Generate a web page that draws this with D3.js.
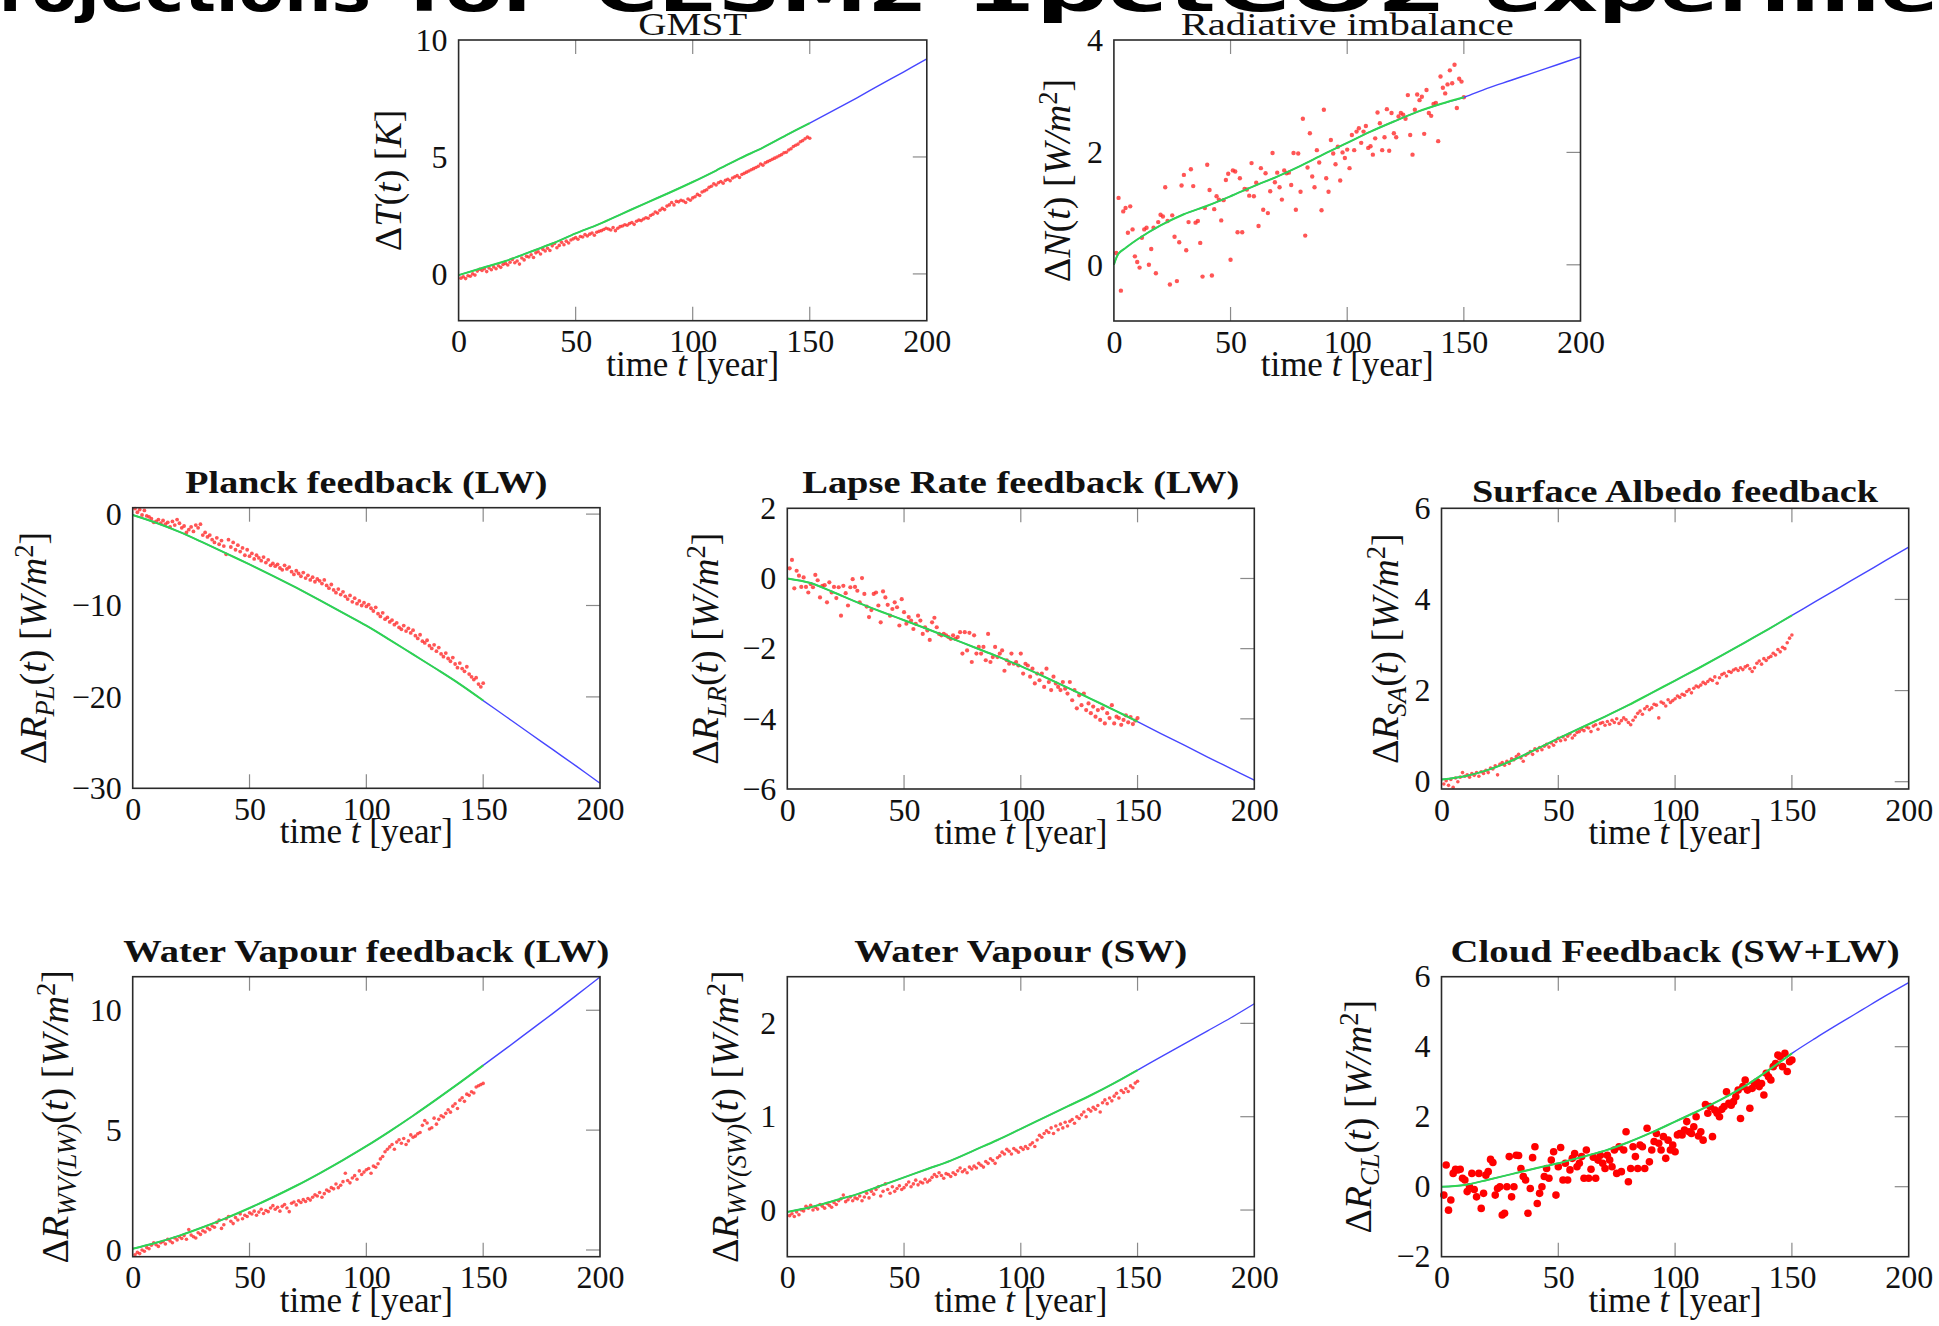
<!DOCTYPE html>
<html>
<head>
<meta charset="utf-8">
<script src="https://cdn.jsdelivr.net/npm/d3@7"></script>
<style>
  body { margin: 0; background: #fff; overflow: hidden; }
  svg text { font-family: "Liberation Serif", "Times New Roman", serif; fill: #111; }
  .tick text { font-size: 32px; }
  .banner { font-family: "DejaVu Sans", sans-serif !important; font-weight: bold; font-size: 58px; fill: #000 !important; }
</style>
</head>
<body>
<svg id="chart" width="1939" height="1326"></svg>
<script>
// years of the model output, one value per year
const obsYears = d3.range(1, 151);
// years where the fitted response is tabulated
const fitYears = d3.range(0, 201, 10);
const radFitYears = [0, 2, 5, 10, 20, 30, 40, 50, 60, 70, 80, 90, 100, 110, 120, 130, 140, 150, 160, 170, 180, 190, 200];
const xTicks = [0, 50, 100, 150, 200];

// heading words
const bannerWords = ['Projections', 'for', 'CESM2', '1pctCO2', 'experiment'];

// global mean surface temperature change [K]
const gmstObs = [
  -0.18,-0.12,-0.2,-0.08,-0.1,0.0,-0.05,0.12,0.2,0.15,
  0.22,0.1,0.25,0.18,0.3,0.22,0.35,0.28,0.4,0.45,
  0.38,0.5,0.62,0.48,0.55,0.42,0.68,0.6,0.75,0.72,
  0.82,0.7,0.9,0.95,0.85,1.05,0.98,1.1,1.0,1.2,
  1.3,1.12,1.22,1.35,1.25,1.4,1.32,1.45,1.5,1.55,
  1.48,1.6,1.58,1.68,1.62,1.7,1.75,1.65,1.78,1.82,
  1.85,1.9,1.95,1.92,1.88,1.98,1.85,1.95,2.02,2.05,
  2.1,2.08,2.15,2.2,2.12,2.25,2.3,2.28,2.35,2.4,
  2.38,2.5,2.55,2.65,2.6,2.72,2.8,2.75,2.9,2.95,
  3.05,2.95,3.1,3.08,3.15,3.12,3.05,3.2,3.15,3.25,
  3.3,3.4,3.35,3.5,3.55,3.6,3.7,3.75,3.85,3.8,
  3.9,3.95,3.88,4.0,4.05,3.98,4.1,4.15,4.2,4.12,
  4.25,4.3,4.35,4.4,4.45,4.5,4.55,4.6,4.7,4.65,
  4.75,4.8,4.85,4.9,4.95,5.0,5.05,5.1,5.18,5.2,
  5.3,5.35,5.45,5.5,5.55,5.65,5.7,5.78,5.85,5.8
];
const gmstFit = [-0.05,0.25,0.55,0.92,1.3,1.73,2.13,2.58,3.03,3.47,3.93,4.42,4.93,5.4,5.93,6.45,6.98,7.52,8.08,8.63,9.19];

// top-of-atmosphere radiative imbalance [W/m2]
const radObs = [
  0.21,1.19,-0.46,0.95,1.01,0.57,1.04,0.63,0.15,0.05,
  -0.05,0.48,0.63,0.66,0.0,0.28,0.66,-0.15,0.76,0.89,
  0.86,1.38,0.78,-0.35,0.88,0.5,-0.29,0.4,1.41,1.6,
  0.26,0.76,1.7,1.4,0.75,0.78,0.39,-0.21,1.01,1.78,
  1.33,-0.19,0.99,1.22,1.16,0.79,1.15,1.51,1.62,0.09,
  1.68,1.66,0.58,1.54,0.58,1.35,1.34,1.23,1.81,1.22,
  1.46,0.69,1.72,0.98,1.63,0.92,1.31,1.99,1.47,1.64,
  1.38,1.16,1.68,1.63,1.64,1.42,1.99,0.98,1.98,1.3,
  2.6,0.52,1.73,2.34,1.57,1.38,2.04,1.82,0.97,2.76,
  1.54,1.3,2.22,1.98,1.79,2.1,1.5,2.0,1.9,2.05,
  1.72,2.31,2.04,2.37,2.43,2.17,2.37,2.47,2.08,2.11,
  1.96,2.25,2.71,2.52,2.04,2.27,2.77,2.03,2.7,2.34,
  2.27,2.64,2.7,2.67,2.6,3.02,2.31,1.96,2.76,3.03,
  2.93,2.99,2.33,3.11,2.7,2.65,2.86,2.88,2.2,3.35,
  3.15,3.05,3.21,3.46,3.23,3.56,2.79,3.31,3.26,2.98
];
const radFit = [0,0.2,0.3,0.45,0.7,0.9,1.05,1.22,1.4,1.57,1.76,1.97,2.17,2.37,2.55,2.72,2.86,2.98,3.14,3.28,3.42,3.56,3.7];

// Planck feedback (LW) [W/m2]
const planckObs = [
  0.6,0.2,0.5,-0.1,0.4,-0.2,-0.3,-0.5,-0.9,-0.8,
  -0.6,-1.0,-0.7,-1.1,-0.9,-1.4,-0.8,-1.2,-0.6,-1.0,
  -1.5,-1.3,-2.0,-1.7,-1.4,-1.9,-1.2,-1.5,-1.1,-2.3,
  -2.0,-2.5,-2.3,-2.8,-3.1,-2.6,-3.3,-2.9,-3.5,-4.4,
  -2.8,-3.6,-3.1,-3.9,-3.4,-4.1,-3.7,-4.5,-3.9,-4.6,
  -4.3,-4.9,-4.5,-4.8,-5.1,-4.7,-5.3,-5.0,-5.6,-5.4,
  -5.7,-5.5,-5.9,-6.1,-5.6,-6.0,-5.8,-6.3,-6.6,-6.2,
  -6.5,-6.8,-6.4,-7.0,-6.7,-7.2,-6.9,-7.4,-7.1,-7.3,
  -7.6,-7.2,-7.8,-8.1,-7.7,-8.3,-8.6,-8.2,-8.8,-8.5,
  -9.0,-9.3,-8.9,-9.6,-9.2,-9.8,-9.5,-10.0,-9.7,-10.1,
  -9.9,-10.3,-10.6,-10.2,-10.9,-11.2,-10.8,-11.5,-11.3,-11.8,
  -11.6,-12.1,-11.9,-12.4,-12.6,-12.2,-12.8,-12.5,-13.0,-12.7,
  -13.3,-13.6,-13.2,-13.9,-14.1,-13.8,-14.4,-14.7,-14.3,-15.0,
  -14.6,-15.3,-15.6,-15.2,-15.8,-16.1,-15.7,-16.4,-16.8,-16.3,
  -16.9,-17.2,-16.7,-17.5,-17.8,-18.1,-17.9,-18.6,-18.9,-18.5
];
const planckFit = [-0.1,-0.95,-1.95,-3.1,-4.3,-5.5,-6.75,-8.05,-9.4,-10.8,-12.2,-13.75,-15.35,-16.95,-18.6,-20.4,-22.2,-24.0,-25.8,-27.6,-29.45];

// lapse rate feedback (LW) [W/m2]
const lapseObs = [
  0.29,0.53,-0.28,0.22,0.08,-0.24,0.03,-0.24,-0.4,-0.16,
  -0.25,0.1,-0.05,-0.54,-0.21,-0.19,-0.68,-0.11,-0.4,-0.24,
  -0.56,-0.25,-1.06,-0.21,-0.42,-0.77,-0.25,-0.02,-0.24,-0.35,
  -0.68,0.01,-0.44,-0.8,-1.1,-0.9,-0.44,-0.4,-0.77,-1.25,
  -0.37,-0.54,-0.75,-1.06,-0.87,-0.68,-0.82,-1.34,-0.59,-0.96,
  -1.29,-1.1,-1.2,-1.44,-1.29,-1.06,-1.2,-1.58,-1.39,-1.48,
  -1.75,-1.25,-1.12,-1.39,-1.58,-1.62,-1.58,-1.62,-1.67,-1.72,
  -1.62,-1.72,-1.67,-1.53,-2.14,-1.53,-2.05,-1.55,-2.38,-1.62,
  -2.14,-1.95,-2.14,-1.95,-2.33,-1.58,-2.38,-2.24,-1.95,-2.24,
  -2.14,-2.05,-2.63,-2.33,-2.43,-2.14,-2.43,-2.38,-2.48,-2.14,
  -2.71,-2.43,-2.48,-2.8,-2.57,-2.99,-2.71,-2.9,-2.71,-3.09,
  -2.57,-2.95,-3.18,-2.8,-2.99,-3.09,-3.18,-2.95,-3.14,-3.28,
  -2.95,-3.47,-3.18,-3.7,-3.33,-3.61,-3.28,-3.75,-3.56,-3.84,
  -3.65,-3.94,-3.75,-4.03,-3.7,-4.13,-3.84,-3.98,-3.61,-4.13,
  -3.94,-3.98,-4.17,-4.03,-3.9,-4.1,-3.95,-4.15,-4.05,-3.98
];
const lapseFit = [0,-0.13,-0.4,-0.68,-0.94,-1.19,-1.44,-1.7,-1.96,-2.22,-2.5,-2.8,-3.11,-3.43,-3.75,-4.08,-4.42,-4.75,-5.09,-5.42,-5.75];

// surface albedo feedback [W/m2]
const albedoObs = [
  -0.05,0.02,-0.08,0.05,-0.12,0.08,0.0,0.1,0.2,0.12,
  0.15,0.1,0.18,0.14,0.2,0.12,0.22,0.18,0.25,0.2,
  0.3,0.28,0.35,0.15,0.38,0.42,0.36,0.45,0.4,0.5,
  0.48,0.55,0.6,0.52,0.45,0.58,0.62,0.66,0.6,0.72,
  0.68,0.75,0.7,0.78,0.82,0.76,0.85,0.8,0.88,0.95,
  0.9,0.98,0.92,1.0,1.05,0.96,1.02,1.08,1.1,1.15,
  1.12,1.2,1.18,1.1,1.22,1.25,1.15,1.28,1.3,1.24,
  1.32,1.26,1.35,1.3,1.38,1.28,1.34,1.4,1.36,1.3,
  1.25,1.35,1.42,1.5,1.55,1.48,1.6,1.65,1.58,1.62,
  1.7,1.68,1.4,1.75,1.72,1.66,1.8,1.74,1.78,1.82,
  1.88,1.85,1.92,1.9,1.98,2.02,1.95,2.05,2.1,2.08,
  2.12,2.18,2.15,2.2,2.25,2.22,2.3,2.16,2.28,2.35,
  2.38,2.32,2.42,2.4,2.45,2.48,2.44,2.5,2.46,2.52,
  2.55,2.48,2.42,2.5,2.6,2.65,2.58,2.7,2.66,2.72,
  2.75,2.82,2.78,2.9,2.85,2.95,2.92,3.05,3.15,3.22
];
const albedoFit = [0.05,0.12,0.26,0.46,0.7,0.95,1.19,1.43,1.68,1.95,2.22,2.49,2.77,3.06,3.35,3.65,3.95,4.25,4.55,4.85,5.15];

// water vapour feedback (LW) [W/m2]
const wvlwObs = [
  -0.2,-0.1,-0.15,0.0,-0.05,0.1,0.05,0.2,0.3,0.22,
  0.15,0.3,0.35,0.25,0.45,0.38,0.3,0.5,0.42,0.55,
  0.48,0.6,0.45,0.85,0.62,0.55,0.5,0.72,0.65,0.8,
  0.75,0.92,0.85,1.0,0.95,1.15,1.25,0.9,1.05,1.3,
  1.4,1.2,1.1,1.35,1.25,1.5,1.3,1.45,1.4,1.55,
  1.5,1.62,1.45,1.58,1.7,1.52,1.65,1.6,1.75,1.85,
  1.7,1.78,1.62,1.82,1.9,1.75,1.6,1.95,2.0,1.88,
  2.05,1.98,2.1,2.02,2.15,2.08,2.2,2.3,2.25,2.4,
  2.2,2.35,2.5,2.45,2.6,2.55,2.75,2.6,2.7,2.85,
  3.2,2.9,2.8,3.0,3.1,2.95,3.3,3.15,3.25,3.35,
  3.4,3.2,3.5,3.45,3.6,3.8,3.9,4.1,4.2,4.3,
  4.4,4.2,4.5,4.6,4.45,4.65,4.4,4.55,4.8,4.7,
  4.75,4.85,4.9,5.2,5.4,5.3,5.05,5.1,5.5,5.25,
  5.45,5.6,5.55,5.7,5.85,5.75,6.0,6.1,5.9,6.25,
  6.35,6.2,6.5,6.45,6.6,6.55,6.8,6.85,6.9,6.95
];
const wvlwFit = [0.05,0.3,0.6,0.95,1.33,1.75,2.2,2.68,3.2,3.75,4.33,4.95,5.6,6.28,6.98,7.7,8.42,9.15,9.88,10.63,11.39];

// water vapour (SW) [W/m2]
const wvswObs = [
  -0.06,-0.04,-0.07,-0.02,-0.05,0.0,-0.01,0.04,0.02,0.05,
  0.0,0.03,0.01,0.06,0.04,0.02,0.07,0.05,0.03,0.08,
  0.06,0.1,0.12,0.16,0.09,0.11,0.14,0.1,0.13,0.12,
  0.15,0.1,0.14,0.18,0.13,0.2,0.17,0.22,0.25,0.15,
  0.2,0.28,0.22,0.18,0.25,0.2,0.23,0.26,0.22,0.24,
  0.27,0.3,0.25,0.28,0.32,0.27,0.3,0.29,0.33,0.3,
  0.32,0.35,0.38,0.36,0.4,0.37,0.34,0.39,0.38,0.36,
  0.4,0.38,0.42,0.45,0.41,0.43,0.4,0.46,0.44,0.47,
  0.45,0.5,0.48,0.46,0.52,0.5,0.55,0.53,0.5,0.56,
  0.58,0.62,0.6,0.65,0.63,0.6,0.66,0.64,0.62,0.67,
  0.65,0.68,0.66,0.7,0.72,0.68,0.75,0.8,0.78,0.82,
  0.85,0.83,0.88,0.82,0.9,0.86,0.92,0.88,0.94,0.9,
  0.95,0.97,0.93,1.0,0.98,1.02,1.05,1.0,1.08,1.06,
  1.1,1.08,1.12,1.05,1.15,1.18,1.14,1.2,1.17,1.22,
  1.25,1.2,1.28,1.26,1.3,1.27,1.33,1.31,1.36,1.38
];
const wvswFit = [-0.02,0.03,0.1,0.17,0.26,0.35,0.44,0.53,0.64,0.75,0.87,0.99,1.11,1.23,1.36,1.5,1.64,1.78,1.92,2.06,2.21];

// cloud feedback (SW+LW) [W/m2]
const cloudObs = [
  -0.24,0.62,-0.67,-0.38,0.38,0.5,0.48,0.5,0.24,0.19,
  -0.14,0,0.38,-0.08,-0.29,0.38,-0.62,-0.19,0.33,0.43,
  0.78,0.69,-0.24,-0.05,0,-0.81,-0.76,0,0.86,-0.29,
  0,0.9,0.89,0.52,0.29,0.19,-0.76,-0.05,0.83,1.14,
  -0.48,-0.19,0,0.29,0.52,0.24,0.76,1.0,-0.24,0.57,
  1.12,0.19,0.67,0.19,0.48,0.81,0.95,0.57,0.67,0.86,
  0.24,1.05,0.24,0.5,0.84,0.24,0.76,0.9,0.67,0.52,
  0.9,0.76,0.57,1.05,0.38,1.14,0.43,1.05,1.57,0.14,
  0.52,1.14,0.86,0.52,1.19,1.14,0.52,1.67,0.71,1.05,
  1.29,1.52,1.24,1.05,1.43,0.81,1.33,1.05,1.19,1.0,
  1.48,1.52,1.48,1.62,1.86,1.57,1.52,1.71,2.0,1.45,
  1.57,1.33,2.35,2.1,2.29,1.43,2.19,2.1,2.0,2.21,
  2.29,2.71,2.38,2.33,2.43,2.57,2.76,1.95,2.86,3.05,
  2.76,2.24,2.81,2.95,3.0,2.86,2.95,2.62,3.24,3.14,
  3.05,3.43,3.52,3.76,3.71,3.43,3.81,3.29,3.57,3.62
];
const cloudFit = [0,0.05,0.2,0.36,0.52,0.67,0.85,1.03,1.27,1.55,1.86,2.17,2.5,2.88,3.33,3.81,4.24,4.65,5.05,5.45,5.83];

// axis label pieces: [text, style]  ('' upright, 'i' italic, 'sub', 'sup')
const wm2 = [[') [', ''], ['W/m', 'i'], ['2', 'sup'], [']', '']];
const yLabels = {
  gmst: [['Δ', ''], ['T', 'i'], ['(', ''], ['t', 'i'], [') [', ''], ['K', 'i'], [']', '']],
  rad: [['Δ', ''], ['N', 'i'], ['(', ''], ['t', 'i'], ...wm2],
  planck: [['Δ', ''], ['R', 'i'], ['PL', 'sub'], ['(', ''], ['t', 'i'], ...wm2],
  lapse: [['Δ', ''], ['R', 'i'], ['LR', 'sub'], ['(', ''], ['t', 'i'], ...wm2],
  albedo: [['Δ', ''], ['R', 'i'], ['SA', 'sub'], ['(', ''], ['t', 'i'], ...wm2],
  wvlw: [['Δ', ''], ['R', 'i'], ['WV(LW)', 'sub'], ['(', ''], ['t', 'i'], ...wm2],
  wvsw: [['Δ', ''], ['R', 'i'], ['WV(SW)', 'sub'], ['(', ''], ['t', 'i'], ...wm2],
  cloud: [['Δ', ''], ['R', 'i'], ['CL', 'sub'], ['(', ''], ['t', 'i'], ...wm2]
};

const svg = d3.select('#chart');

// heading across the top, running off both edges of the page
const bannerX = [-50, 408, 594, 965, 1484];
const bannerW = [421, 136, 334, 482, 557];
svg.append('g')
  .selectAll('text')
  .data(bannerWords)
  .join('text')
  .attr('class', 'banner')
  .attr('x', (d, i) => bannerX[i])
  .attr('y', 11)
  .attr('textLength', (d, i) => bannerW[i])
  .attr('lengthAdjust', 'spacingAndGlyphs')
  .text(d => d);

const panels = [
  { key: 'gmst', obs: gmstObs, fit: gmstFit, fitX: fitYears, yDomain: [-2, 10], yTicks: [0, 5, 10],
    box: [458.6, 40, 468.2, 280.7], title: 'GMST', bold: false, titleW: 109, titleGap: 5, labDx: 71, r: 1.8 },
  { key: 'rad', obs: radObs, fit: radFit, fitX: radFitYears, yDomain: [-1, 4], yTicks: [0, 2, 4],
    box: [1113.9, 40, 466.6, 281], title: 'Radiative imbalance', bold: false, titleW: 333, titleGap: 5, labDx: 57, r: 2.2 },
  { key: 'planck', obs: planckObs, fit: planckFit, fitX: fitYears, yDomain: [-30, 0.7], yTicks: [-30, -20, -10, 0],
    box: [132.7, 507.7, 467.3, 280.6], title: 'Planck feedback (LW)', bold: true, titleW: 362, titleGap: 15, labDx: 100, r: 1.9 },
  { key: 'lapse', obs: lapseObs, fit: lapseFit, fitX: fitYears, yDomain: [-6, 2], yTicks: [-6, -4, -2, 0, 2],
    box: [787.3, 508.3, 467, 280.7], title: 'Lapse Rate feedback (LW)', bold: true, titleW: 437, titleGap: 15, labDx: 82, r: 2.1 },
  { key: 'albedo', obs: albedoObs, fit: albedoFit, fitX: fitYears, yDomain: [-0.16, 6], yTicks: [0, 2, 4, 6],
    box: [1441.5, 508.3, 467.2, 280.7], title: 'Surface Albedo feedback', bold: true, titleW: 406, titleGap: 6, labDx: 57, r: 1.8 },
  { key: 'wvlw', obs: wvlwObs, fit: wvlwFit, fitX: fitYears, yDomain: [-0.28, 11.4], yTicks: [0, 5, 10],
    box: [132.7, 976.7, 467.3, 280], title: 'Water Vapour feedback (LW)', bold: true, titleW: 486, titleGap: 15, labDx: 78, r: 1.8 },
  { key: 'wvsw', obs: wvswObs, fit: wvswFit, fitX: fitYears, yDomain: [-0.5, 2.5], yTicks: [0, 1, 2],
    box: [787.3, 976.7, 467, 280], title: 'Water Vapour (SW)', bold: true, titleW: 333, titleGap: 15, labDx: 62, r: 1.8 },
  { key: 'cloud', obs: cloudObs, fit: cloudFit, fitX: fitYears, yDomain: [-2, 6], yTicks: [-2, 0, 2, 4, 6],
    box: [1441.5, 976.7, 467.2, 280], title: 'Cloud Feedback (SW+LW)', bold: true, titleW: 449, titleGap: 15, labDx: 84, r: 3.8 }
];

const fmt = d => d < 0 ? '\u2212' + Math.abs(d) : String(d);
const tickLen = 14;

// builds math-like label text from pieces; sub/superscripts shift the
// baseline and the following piece shifts it back
function addMathLabel(sel, parts, size) {
  let back = 0;
  parts.forEach(([txt, st]) => {
    const t = sel.append('tspan').text(txt);
    let shift = 0;
    if (st === 'i') t.style('font-style', 'italic');
    if (st === 'sub') {
      t.style('font-style', 'italic').style('font-size', (size * 0.7) + 'px');
      shift = 8;
    }
    if (st === 'sup') {
      t.style('font-size', (size * 0.7) + 'px');
      shift = -13;
    }
    if (shift !== 0 || back !== 0) t.attr('dy', shift - back);
    back = shift;
  });
}

function drawPanel(p) {
  const [bx, by, bw, bh] = p.box;
  const g = svg.append('g').attr('transform', `translate(${bx},${by})`);

  const x = d3.scaleLinear().domain([0, 200]).range([0, bw]);
  const y = d3.scaleLinear().domain(p.yDomain).range([bh, 0]);

  // tick labels from the axes, marks drawn inside the box
  g.append('g')
    .attr('transform', `translate(0,${bh})`)
    .call(d3.axisBottom(x).tickValues(xTicks).tickSize(0).tickPadding(9))
    .call(a => a.select('.domain').remove());

  g.append('g')
    .call(d3.axisLeft(y).tickValues(p.yTicks).tickSize(0).tickPadding(11).tickFormat(fmt))
    .call(a => a.select('.domain').remove());

  const marks = g.append('g').attr('stroke', '#8a8a8a').attr('stroke-width', 1.2);
  xTicks.slice(1, -1).forEach(t => {
    marks.append('line').attr('x1', x(t)).attr('x2', x(t)).attr('y1', bh).attr('y2', bh - tickLen);
    marks.append('line').attr('x1', x(t)).attr('x2', x(t)).attr('y1', 0).attr('y2', tickLen);
  });
  p.yTicks.forEach(t => {
    if (y(t) <= 0.5 || y(t) >= bh - 0.5) return;
    marks.append('line').attr('x1', bw).attr('x2', bw - tickLen).attr('y1', y(t)).attr('y2', y(t));
  });

  // yearly model values
  g.append('g')
    .selectAll('circle')
    .data(p.obs)
    .join('circle')
    .attr('cx', (d, i) => x(obsYears[i]))
    .attr('cy', d => y(d))
    .attr('r', p.r)
    .attr('fill', p.key === 'cloud' ? '#ff0000' : '#ff2b2b')
    .attr('opacity', p.key === 'cloud' ? 1 : 0.8);

  // fitted response: full range in blue, calibration window in green
  const line = d3.line()
    .x(d => x(d[0]))
    .y(d => y(d[1]))
    .curve(d3.curveCatmullRom.alpha(0.5));
  const fitPts = p.fitX.map((t, i) => [t, p.fit[i]]);

  g.append('path')
    .datum(fitPts)
    .attr('d', line)
    .attr('fill', 'none')
    .attr('stroke', '#4646ff')
    .attr('stroke-width', 1.4);

  g.append('path')
    .datum(fitPts.filter(d => d[0] <= 150))
    .attr('d', line)
    .attr('fill', 'none')
    .attr('stroke', '#2fd64f')
    .attr('stroke-width', 2);

  g.append('rect')
    .attr('width', bw)
    .attr('height', bh)
    .attr('fill', 'none')
    .attr('stroke', '#2a2a2a')
    .attr('stroke-width', 1.6);

  // title
  g.append('text')
    .attr('x', bw / 2)
    .attr('y', -p.titleGap)
    .attr('text-anchor', 'middle')
    .attr('textLength', p.titleW)
    .attr('lengthAdjust', 'spacingAndGlyphs')
    .style('font-size', '31px')
    .style('font-weight', p.bold ? 'bold' : 'normal')
    .text(p.title);

  // x label
  const xl = g.append('text')
    .attr('x', bw / 2)
    .attr('y', bh + 55)
    .attr('text-anchor', 'middle')
    .style('font-size', '35px');
  xl.append('tspan').text('time ');
  xl.append('tspan').style('font-style', 'italic').text('t');
  xl.append('tspan').text(' [year]');

  // y label
  const yl = g.append('text')
    .attr('transform', `translate(${-p.labDx},${bh / 2}) rotate(-90)`)
    .attr('text-anchor', 'middle')
    .attr('y', 13)
    .style('font-size', '38px');
  addMathLabel(yl, yLabels[p.key], 38);
}

panels.forEach(drawPanel);
</script>
</body>
</html>
